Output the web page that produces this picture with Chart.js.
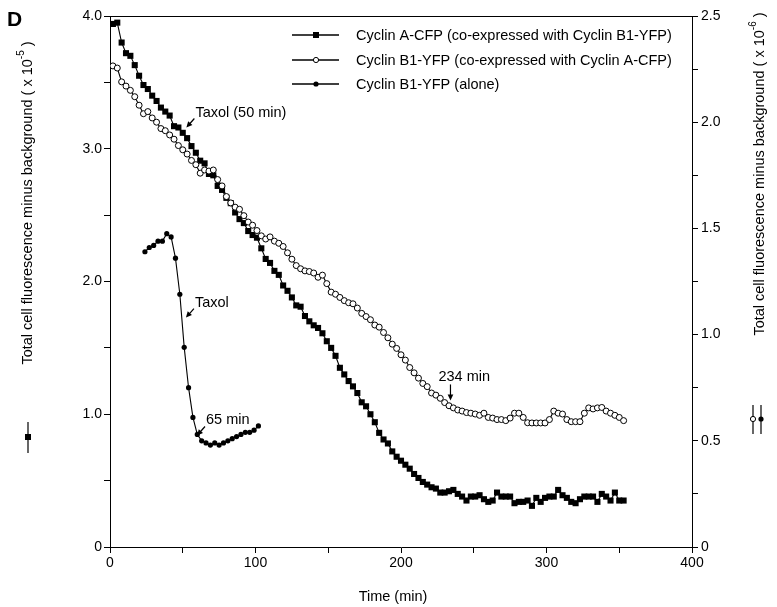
<!DOCTYPE html>
<html lang="en">
<head>
<meta charset="UTF-8">
<title>Cyclin fluorescence vs time</title>
<style>
  body { margin: 0; background: #fff; }
  #chart-wrap { width: 777px; height: 607px; }
</style>
</head>
<body>
<div id="chart-wrap"><canvas id="fluorChart" width="777" height="607"></canvas></div>

<script src="https://cdn.jsdelivr.net/npm/chart.js"></script>
<script>
// time points (min), shared by the two co-expressed series
const times = [2,5,8,11,14,17,20,23,26,29,32,35,38,41,44,47,50,53,56,59,
  62,65,68,71,74,77,80,83,86,89,92,95,98,101,104,107,110,113,116,119,
  122,125,128,131,134,137,140,143,146,149,152,155,158,161,164,167,170,173,176,179,
  182,185,188,191,194,197,200,203,206,209,212,215,218,221,224,227,230,233,236,239,
  242,245,248,251,254,257,260,263,266,269,272,275,278,281,284,287,290,293,296,299,
  302,305,308,311,314,317,320,323,326,329,332,335,338,341,344,347,350,353];

// Cyclin A-CFP, left axis (x 10^5)
const cyclinA = [3.94,3.95,3.80,3.72,3.70,3.63,3.55,3.48,3.45,3.40,
  3.36,3.31,3.28,3.25,3.17,3.16,3.12,3.08,3.02,2.97,
  2.91,2.89,2.81,2.80,2.72,2.69,2.63,2.59,2.52,2.47,
  2.44,2.38,2.35,2.33,2.25,2.17,2.14,2.08,2.05,1.97,
  1.93,1.88,1.82,1.81,1.74,1.70,1.67,1.65,1.61,1.55,
  1.50,1.44,1.35,1.30,1.25,1.21,1.16,1.09,1.06,1.00,
  0.94,0.86,0.81,0.78,0.72,0.68,0.65,0.62,0.59,0.55,
  0.52,0.49,0.47,0.45,0.44,0.41,0.41,0.42,0.43,0.40,
  0.38,0.35,0.38,0.38,0.39,0.36,0.34,0.35,0.41,0.38,
  0.38,0.38,0.33,0.34,0.34,0.35,0.31,0.37,0.34,0.37,
  0.38,0.38,0.43,0.39,0.37,0.34,0.33,0.36,0.38,0.38,
  0.38,0.34,0.40,0.38,0.35,0.41,0.35,0.35];

// Cyclin B1-YFP co-expressed, right axis (x 10^6)
const cyclinB1co = [2.265,2.255,2.19,2.17,2.15,2.12,2.08,2.04,2.05,2.02,
  2.00,1.97,1.96,1.94,1.92,1.89,1.87,1.85,1.82,1.80,
  1.76,1.775,1.77,1.775,1.73,1.70,1.65,1.62,1.60,1.59,
  1.56,1.53,1.515,1.49,1.465,1.45,1.46,1.44,1.43,1.415,
  1.385,1.355,1.325,1.31,1.30,1.297,1.29,1.27,1.28,1.24,
  1.20,1.19,1.175,1.16,1.15,1.145,1.125,1.10,1.085,1.07,
  1.045,1.035,1.01,0.985,0.955,0.935,0.905,0.88,0.845,0.82,
  0.795,0.77,0.755,0.725,0.715,0.70,0.68,0.665,0.655,0.645,
  0.64,0.633,0.63,0.626,0.62,0.63,0.61,0.607,0.60,0.60,
  0.595,0.607,0.63,0.63,0.61,0.585,0.584,0.584,0.584,0.584,
  0.60,0.64,0.63,0.626,0.60,0.59,0.59,0.59,0.63,0.655,
  0.65,0.655,0.657,0.64,0.63,0.62,0.61,0.595];

// Cyclin B1-YFP alone, right axis (x 10^6)
const aloneTimes = [24,27,30,33,36,39,42,45,48,51,54,57,60,63,66,69,72,75,78,81,84,87,90,93,96,99,102];
const cyclinB1alone = [1.39,1.41,1.42,1.44,1.44,1.475,1.46,1.36,1.19,0.94,0.75,0.61,0.53,0.50,
  0.49,0.48,0.49,0.48,0.49,0.50,0.51,0.52,0.53,0.54,0.54,0.55,0.57];

const seriesNames = [
  'Cyclin A-CFP (co-expressed with Cyclin B1-YFP)',
  'Cyclin B1-YFP (co-expressed with Cyclin A-CFP)',
  'Cyclin B1-YFP (alone)'
];

const xTicks = [0, 100, 200, 300, 400];
const xTickLabels = ['0', '100', '200', '300', '400'];
const leftTicks = [0, 1, 2, 3, 4];
const leftTickLabels = ['0', '1.0', '2.0', '3.0', '4.0'];
const rightTicks = [0, 0.5, 1, 1.5, 2, 2.5];
const rightTickLabels = ['0', '0.5', '1.0', '1.5', '2.0', '2.5'];

// arrow notes: tip position in data units (min, axis value)
const notes = [
  { text: 'Taxol (50 min)', x: 52.5, y: 3.16, axis: 'yL' },
  { text: 'Taxol', x: 52.2, y: 1.08, axis: 'yR' },
  { text: '65 min', x: 59.8, y: 0.525, axis: 'yR' }
];

const FONT = '"Liberation Sans", Arial, Helvetica, sans-serif';
const TXT = '14.5px ' + FONT;

function pickLabel(values, labels) {
  return function (v) {
    for (let i = 0; i < values.length; i++) {
      if (Math.abs(values[i] - v) < 1e-6) return labels[i];
    }
    return '';
  };
}

function toPoints(xs, ys) {
  return xs.map((x, i) => ({ x: x, y: ys[i] }));
}

function arrow(ctx, x1, y1, x2, y2) {
  const ang = Math.atan2(y2 - y1, x2 - x1);
  ctx.beginPath();
  ctx.moveTo(x1, y1);
  ctx.lineTo(x2 - 3 * Math.cos(ang), y2 - 3 * Math.sin(ang));
  ctx.stroke();
  ctx.beginPath();
  ctx.moveTo(x2, y2);
  ctx.lineTo(x2 - 6.5 * Math.cos(ang - 0.45), y2 - 6.5 * Math.sin(ang - 0.45));
  ctx.lineTo(x2 - 6.5 * Math.cos(ang + 0.45), y2 - 6.5 * Math.sin(ang + 0.45));
  ctx.closePath();
  ctx.fill();
}

function rotatedTitle(ctx, cx, cy, sup) {
  const main = 'Total cell fluorescence minus background ( x 10';
  const tail = ' )';
  ctx.save();
  ctx.translate(cx, cy);
  ctx.rotate(-Math.PI / 2);
  ctx.font = TXT;
  const w1 = ctx.measureText(main).width;
  const w3 = ctx.measureText(tail).width;
  ctx.font = '10px ' + FONT;
  const w2 = ctx.measureText(sup).width;
  let x = -(w1 + w2 + w3) / 2;
  ctx.textBaseline = 'middle';
  ctx.textAlign = 'left';
  ctx.font = TXT;
  ctx.fillText(main, x, 0);
  x += w1;
  ctx.font = '10px ' + FONT;
  ctx.fillText(sup, x, -7);
  x += w2;
  ctx.font = TXT;
  ctx.fillText(tail, x, 0);
  ctx.restore();
}

// frame, titles, legend, arrows
const decorPlugin = {
  id: 'decor',
  afterDraw(chart) {
    const ctx = chart.ctx;
    const area = chart.chartArea;
    const sx = chart.scales.x;
    ctx.save();
    ctx.strokeStyle = '#000';
    ctx.fillStyle = '#000';
    ctx.lineWidth = 1;

    // top frame line
    ctx.beginPath();
    ctx.moveTo(area.left, area.top + 0.5);
    ctx.lineTo(area.right, area.top + 0.5);
    ctx.stroke();

    // panel letter
    ctx.font = 'bold 21px ' + FONT;
    ctx.textBaseline = 'middle';
    ctx.fillText('D', 7, 20);

    // x title
    ctx.font = TXT;
    ctx.textAlign = 'center';
    ctx.fillText('Time (min)', 393, 597);

    // y titles
    rotatedTitle(ctx, 28, 203, '-5');
    rotatedTitle(ctx, 760, 174, '-6');

    // left title symbol
    ctx.lineWidth = 1.2;
    ctx.beginPath(); ctx.moveTo(28, 422); ctx.lineTo(28, 453); ctx.stroke();
    ctx.fillRect(25, 434, 6, 6);
    // right title symbols
    ctx.beginPath(); ctx.moveTo(753, 405); ctx.lineTo(753, 434); ctx.stroke();
    ctx.beginPath(); ctx.moveTo(761, 405); ctx.lineTo(761, 434); ctx.stroke();
    ctx.beginPath(); ctx.arc(753, 419, 2.6, 0, Math.PI * 2);
    ctx.fillStyle = '#fff'; ctx.fill(); ctx.lineWidth = 1; ctx.stroke();
    ctx.fillStyle = '#000';
    ctx.beginPath(); ctx.arc(761, 419, 2.6, 0, Math.PI * 2); ctx.fill();

    // legend
    const rows = [35, 60, 84];
    ctx.textAlign = 'left';
    ctx.font = TXT;
    rows.forEach((ry, i) => {
      ctx.lineWidth = 1.3;
      ctx.beginPath(); ctx.moveTo(292, ry); ctx.lineTo(339, ry); ctx.stroke();
      if (i === 0) {
        ctx.fillRect(313, ry - 3, 6, 6);
      } else if (i === 1) {
        ctx.beginPath(); ctx.arc(316, ry, 2.6, 0, Math.PI * 2);
        ctx.fillStyle = '#fff'; ctx.fill(); ctx.lineWidth = 1; ctx.stroke();
        ctx.fillStyle = '#000';
      } else {
        ctx.beginPath(); ctx.arc(316, ry, 2.6, 0, Math.PI * 2); ctx.fill();
      }
      ctx.fillText(seriesNames[i], 356, ry + 1);
    });

    // annotations with slanted arrows
    ctx.lineWidth = 1.2;
    notes.forEach(n => {
      const px = sx.getPixelForValue(n.x);
      const py = chart.scales[n.axis].getPixelForValue(n.y);
      arrow(ctx, px + 8, py - 9, px, py);
      ctx.textAlign = 'left';
      ctx.fillText(n.text, px + 9, py - 15);
    });

    // 234 min, vertical arrow
    const ax = sx.getPixelForValue(234);
    const ay = chart.scales.yR.getPixelForValue(0.69);
    arrow(ctx, ax, ay - 16, ax, ay);
    ctx.textAlign = 'left';
    ctx.fillText('234 min', ax - 12, ay - 23);

    ctx.restore();
  }
};

function axisStyle() {
  return {
    border: { display: true, color: '#000', width: 1 },
    grid: { drawOnChartArea: false, drawTicks: true, tickLength: 6, color: '#000', lineWidth: 1 }
  };
}

const ctx = document.getElementById('fluorChart').getContext('2d');
new Chart(ctx, {
  type: 'line',
  data: {
    datasets: [
      {
        label: seriesNames[1],
        data: toPoints(times, cyclinB1co),
        yAxisID: 'yR',
        borderColor: '#000',
        borderWidth: 1.1,
        pointStyle: 'circle',
        pointRadius: 3,
        pointBorderWidth: 1,
        pointBackgroundColor: '#fff',
        pointBorderColor: '#000',
        tension: 0
      },
      {
        label: seriesNames[0],
        data: toPoints(times, cyclinA),
        yAxisID: 'yL',
        borderColor: '#000',
        borderWidth: 1.1,
        pointStyle: 'rect',
        pointRadius: 4.3,
        pointBorderWidth: 0,
        pointBackgroundColor: '#000',
        tension: 0
      },
      {
        label: seriesNames[2],
        data: toPoints(aloneTimes, cyclinB1alone),
        yAxisID: 'yR',
        borderColor: '#000',
        borderWidth: 1.1,
        pointStyle: 'circle',
        pointRadius: 2.6,
        pointBorderWidth: 0,
        pointBackgroundColor: '#000',
        tension: 0
      }
    ]
  },
  options: {
    responsive: false,
    animation: false,
    layout: { padding: { top: 16, left: 0, right: 0, bottom: 0 } },
    plugins: {
      legend: { display: false },
      tooltip: { enabled: false }
    },
    scales: {
      x: Object.assign(axisStyle(), {
        type: 'linear',
        min: 0, max: 400,
        afterFit: s => { s.height = 60; },
        ticks: {
          stepSize: 50, autoSkip: false, maxRotation: 0, padding: 2,
          color: '#000', font: { size: 14, family: FONT },
          callback: pickLabel(xTicks, xTickLabels)
        }
      }),
      yL: Object.assign(axisStyle(), {
        position: 'left',
        min: 0, max: 4,
        afterFit: s => { s.width = 110; },
        ticks: {
          stepSize: 0.5, autoSkip: false, padding: 2,
          color: '#000', font: { size: 14, family: FONT },
          callback: pickLabel(leftTicks, leftTickLabels)
        }
      }),
      yR: Object.assign(axisStyle(), {
        position: 'right',
        min: 0, max: 2.5,
        afterFit: s => { s.width = 85; },
        ticks: {
          stepSize: 0.25, autoSkip: false, padding: 3,
          color: '#000', font: { size: 14, family: FONT },
          callback: pickLabel(rightTicks, rightTickLabels)
        }
      })
    }
  },
  plugins: [decorPlugin]
});
</script>
</body>
</html>
